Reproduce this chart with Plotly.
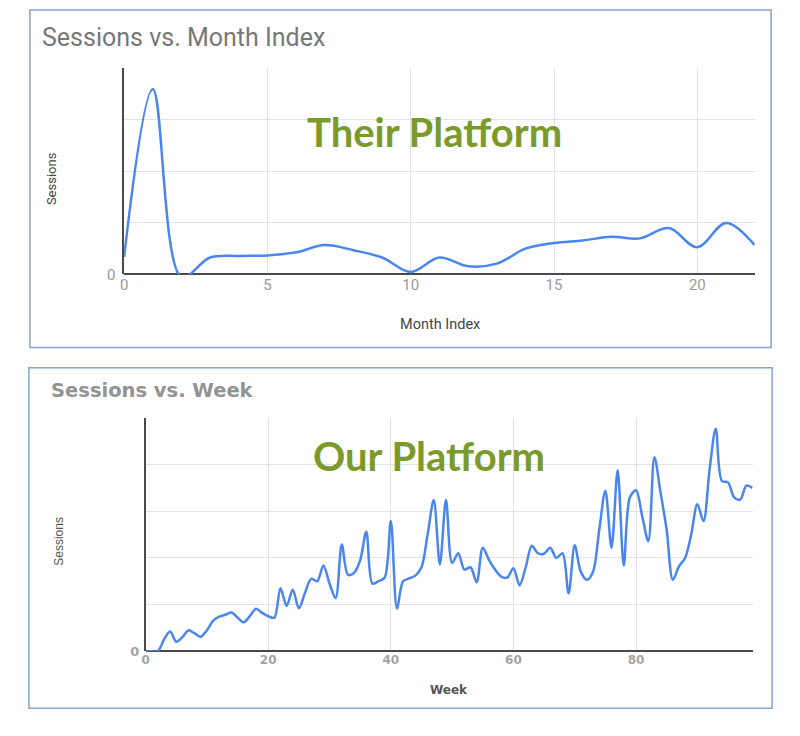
import plotly.graph_objects as go

# ---- Data: top chart (Their Platform) ----
month_index = list(range(0, 23))
their_sessions = [0.34, 3.59, -0.05, 0.33, 0.36, 0.37, 0.43, 0.57, 0.47, 0.33, 0.05,
                  0.33, 0.16, 0.21, 0.50, 0.61, 0.66, 0.73, 0.70, 0.90, 0.53, 1.00, 0.57]

# ---- Data: bottom chart (Our Platform) ----
week = list(range(0, 100))
our_sessions = [0, 0, 0, 0.25, 0.42, 0.20, 0.30, 0.45, 0.38, 0.31,
                0.45, 0.65, 0.74, 0.78, 0.83, 0.72, 0.62, 0.75, 0.91, 0.82,
                0.75, 0.72, 1.35, 0.97, 1.32, 0.92, 1.25, 1.55, 1.50, 1.84,
                1.45, 1.14, 2.29, 1.64, 1.68, 1.95, 2.56, 1.45, 1.50, 1.58,
                2.79, 0.92, 1.50, 1.56, 1.62, 1.80, 2.50, 3.24, 1.86, 3.24,
                1.89, 2.10, 1.75, 1.80, 1.48, 2.22, 1.96, 1.75, 1.60, 1.58,
                1.78, 1.41, 1.80, 2.26, 2.10, 2.09, 2.22, 2.00, 2.10, 1.24,
                2.27, 1.70, 1.53, 1.71, 2.60, 3.44, 2.22, 3.88, 1.84, 3.30,
                3.45, 2.90, 2.36, 4.16, 3.40, 2.60, 1.53, 1.82, 2.00, 2.50,
                3.15, 2.79, 3.90, 4.77, 3.65, 3.62, 3.30, 3.25, 3.55, 3.50]

top_yticks = [0, 1, 2, 3, 4]
top_yticklabels = ["0", "", "", "", ""]
top_xticks = [0, 5, 10, 15, 20]
bot_yticks = [0, 1, 2, 3, 4, 5]
bot_yticklabels = ["0", "", "", "", "", ""]
bot_xticks = [0, 20, 40, 60, 80]

W, H = 784, 720
OFFX, OFFY, SY = 9, 8, 0.9857
LINE = "#4a86f0"
GRID = "#e3e3e3"
AXIS = "#4a4a4a"
TICK = "#9a9a9a"
GREEN = "#7a9a2a"
BORDER = "#86a5cb"

def px_x(p):
    return (p - OFFX) / W

def px_y(p):
    return 1 - ((p - OFFY) / SY) / H

fig = go.Figure()
fig.add_trace(go.Scatter(x=month_index, y=their_sessions, mode="lines",
                         line=dict(color=LINE, width=2.5, shape="spline", smoothing=1.0),
                         xaxis="x", yaxis="y", showlegend=False, hoverinfo="skip"))
fig.add_trace(go.Scatter(x=week, y=our_sessions, mode="lines",
                         line=dict(color=LINE, width=2.5, shape="spline", smoothing=0.9),
                         xaxis="x2", yaxis="y2", showlegend=False, hoverinfo="skip"))

common_x = dict(showgrid=True, gridcolor=GRID, gridwidth=1, zeroline=False,
                showline=False, ticks="", fixedrange=True)
common_y = dict(showgrid=True, gridcolor=GRID, gridwidth=1, zeroline=True,
                zerolinecolor=AXIS, zerolinewidth=1.5, showline=True,
                linecolor=AXIS, linewidth=1.5, ticks="", fixedrange=True)

fig.update_layout(
    width=W, height=H,
    margin=dict(l=0, r=0, t=0, b=0),
    paper_bgcolor="white", plot_bgcolor="white",
    font=dict(family="Roboto, Arial, sans-serif"),
    xaxis=dict(domain=[px_x(121.7), px_x(755.5)], range=[0, 22], anchor="y",
               tickvals=top_xticks, tickfont=dict(size=15, color=TICK), **common_x),
    yaxis=dict(domain=[px_y(274), px_y(68)], range=[0, 4], anchor="x",
               tickvals=top_yticks, ticktext=top_yticklabels, ticklabelstandoff=4,
               tickfont=dict(size=15, color=TICK), **common_y),
    xaxis2=dict(domain=[px_x(143.3), px_x(753.3)], range=[0, 99], anchor="y2",
                tickvals=bot_xticks, tickfont=dict(size=12, color="#a3a3a3",
                family="DejaVu Sans, sans-serif", weight="bold"), **common_x),
    yaxis2=dict(domain=[px_y(650), px_y(417.3)], range=[0, 5], anchor="x2",
                tickvals=bot_yticks, ticktext=bot_yticklabels, ticklabelstandoff=2,
                tickfont=dict(size=13, color="#a3a3a3",
                family="DejaVu Sans, sans-serif", weight="bold"), **common_y),
)

shapes = [
    dict(type="rect", xref="paper", yref="paper",
         x0=px_x(27), x1=px_x(772), y0=px_y(347), y1=px_y(10),
         line=dict(color=BORDER, width=1.5), fillcolor="rgba(0,0,0,0)", layer="above"),
    dict(type="rect", xref="paper", yref="paper",
         x0=px_x(26), x1=px_x(773), y0=px_y(707), y1=px_y(367),
         line=dict(color=BORDER, width=1.5), fillcolor="rgba(0,0,0,0)", layer="above"),
]
fig.update_layout(shapes=shapes)

ann = []
ann.append(dict(text="Sessions vs. Month Index", xref="paper", yref="paper",
                x=px_x(37), y=px_y(37), xanchor="left", yanchor="middle", showarrow=False,
                font=dict(family="Roboto, sans-serif", size=25, color="#777777")))
ann.append(dict(text="<b>Sessions vs. Week</b>", xref="paper", yref="paper",
                x=px_x(46), y=px_y(390), xanchor="left", yanchor="middle", showarrow=False,
                font=dict(family="DejaVu Sans, sans-serif", size=19.5, color="#939393")))
ann.append(dict(text="<b>Their Platform</b>", xref="paper", yref="paper",
                x=px_x(434), y=px_y(132), xanchor="center", yanchor="middle", showarrow=False,
                font=dict(family="Lato, Open Sans, sans-serif", size=40, color=GREEN)))
ann.append(dict(text="<b>Our Platform</b>", xref="paper", yref="paper",
                x=px_x(428), y=px_y(455), xanchor="center", yanchor="middle", showarrow=False,
                font=dict(family="Lato, Open Sans, sans-serif", size=40, color=GREEN)))
ann.append(dict(text="Sessions", xref="paper", yref="paper",
                x=px_x(49), y=px_y(178), xanchor="center", yanchor="middle", showarrow=False,
                textangle=-90,
                font=dict(family="Roboto, sans-serif", size=13, color="#444444")))
ann.append(dict(text="Month Index", xref="paper", yref="paper",
                x=px_x(439), y=px_y(324), xanchor="center", yanchor="middle", showarrow=False,
                font=dict(family="Roboto, sans-serif", size=14.5, color="#444444")))
ann.append(dict(text="Sessions", xref="paper", yref="paper",
                x=px_x(56), y=px_y(540), xanchor="center", yanchor="middle", showarrow=False,
                textangle=-90,
                font=dict(family="Liberation Sans, Arial, sans-serif", size=12, color="#555555")))
ann.append(dict(text="<b>Week</b>", xref="paper", yref="paper",
                x=px_x(448), y=px_y(689), xanchor="center", yanchor="middle", showarrow=False,
                font=dict(family="DejaVu Sans, sans-serif", size=12, color="#555555")))
fig.update_layout(annotations=ann)

fig.write_html("out.html")
